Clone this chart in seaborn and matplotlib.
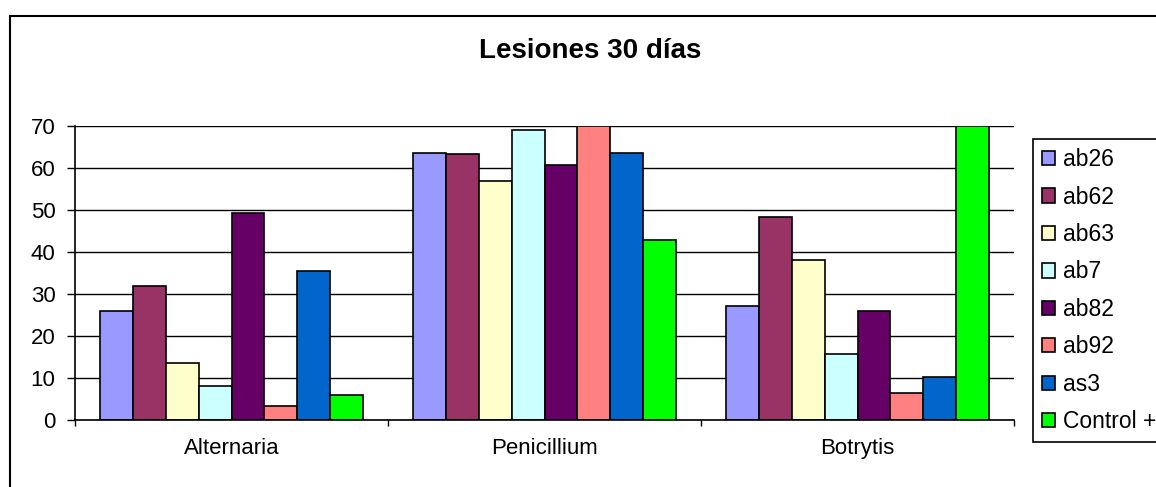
import matplotlib
matplotlib.use('Agg')
import matplotlib.pyplot as plt
import matplotlib.patches as mpatches
import seaborn as sns
import pandas as pd

hongos = ['Alternaria', 'Penicillium', 'Botrytis']
cepas = ['ab26', 'ab62', 'ab63', 'ab7', 'ab82', 'ab92', 'as3', 'Control +']
colores = ['#9999FF', '#993366', '#FFFFCC', '#CCFFFF', '#660066', '#FF8080', '#0066CC', '#00FF00']

ab26 = [25.8, 63.6, 27.1]
ab62 = [31.8, 63.2, 48.3]
ab63 = [13.5, 56.8, 38.1]
ab7 = [8.0, 69.1, 15.6]
ab82 = [49.2, 60.6, 25.8]
ab92 = [3.3, 70.0, 6.2]
as3 = [35.5, 63.6, 10.2]
control = [5.8, 42.8, 70.0]

valores = [ab26, ab62, ab63, ab7, ab82, ab92, as3, control]
y_ticks = [0, 10, 20, 30, 40, 50, 60, 70]

data = []
for cepa, serie in zip(cepas, valores):
    for hongo, v in zip(hongos, serie):
        data.append({'Hongo': hongo, 'Cepa': cepa, 'Lesion': v})
df = pd.DataFrame(data)

sns.set_style('white')
plt.rcParams['font.family'] = ['Liberation Sans', 'DejaVu Sans']
plt.rcParams['text.color'] = 'black'
plt.rcParams['xtick.color'] = 'black'
plt.rcParams['ytick.color'] = 'black'
plt.rcParams['axes.labelcolor'] = 'black'

fig = plt.figure(figsize=(11.56, 4.87), dpi=100)
ax = fig.add_axes([0.0649, 0.1386, 0.8123, 0.6031])

sns.barplot(data=df, x='Hongo', y='Lesion', hue='Cepa', order=hongos,
            hue_order=cepas, palette=colores, saturation=1, width=0.84,
            edgecolor='black', linewidth=1.2, ax=ax, legend=False)

ax.set_ylim(0, 70)
ax.set_xlim(-0.5, 2.5)
ax.set_yticks(y_ticks)
ax.set_axisbelow(True)
ax.yaxis.grid(True, color='black', linewidth=1.0)
ax.xaxis.grid(False)
ax.set_xlabel('')
ax.set_ylabel('')

for s in ['top', 'right']:
    ax.spines[s].set_visible(False)
for s in ['left', 'bottom']:
    ax.spines[s].set_color('black')
    ax.spines[s].set_linewidth(1.2)

ax.tick_params(axis='y', direction='out', length=6, width=1, colors='black',
               labelsize=16, pad=8, left=True)
ax.tick_params(axis='x', which='major', length=0, labelsize=16, pad=13,
               colors='black')
ax.set_xticks([-0.5, 0.5, 1.5, 2.5], minor=True)
ax.tick_params(axis='x', which='minor', direction='out', length=4, width=1,
               color='black', bottom=True)

handles = [mpatches.Patch(facecolor=c, edgecolor='black', linewidth=1.2) for c in colores]
leg = fig.legend(handles, cepas, loc='upper left',
                 bbox_to_anchor=(1033 / 1156, 1 - 139 / 487), fontsize=16.5,
                 frameon=True, fancybox=False, edgecolor='black', framealpha=1,
                 handlelength=0.58, handleheight=0.58, handletextpad=0.32,
                 labelspacing=0.63, borderpad=0.4, borderaxespad=0)
leg.get_frame().set_linewidth(1.2)

fig.text(590 / 1156, 1 - 51 / 487, 'Lesiones 30 días', ha='center', va='center',
         fontsize=20, fontweight='bold', color='black')

fig.patches.append(mpatches.Rectangle((10 / 1156, -0.2), 2, 1.2 - 16 / 487,
                                      transform=fig.transFigure, fill=False,
                                      edgecolor='black', linewidth=1.5))

fig.savefig('out.png', dpi=100)
